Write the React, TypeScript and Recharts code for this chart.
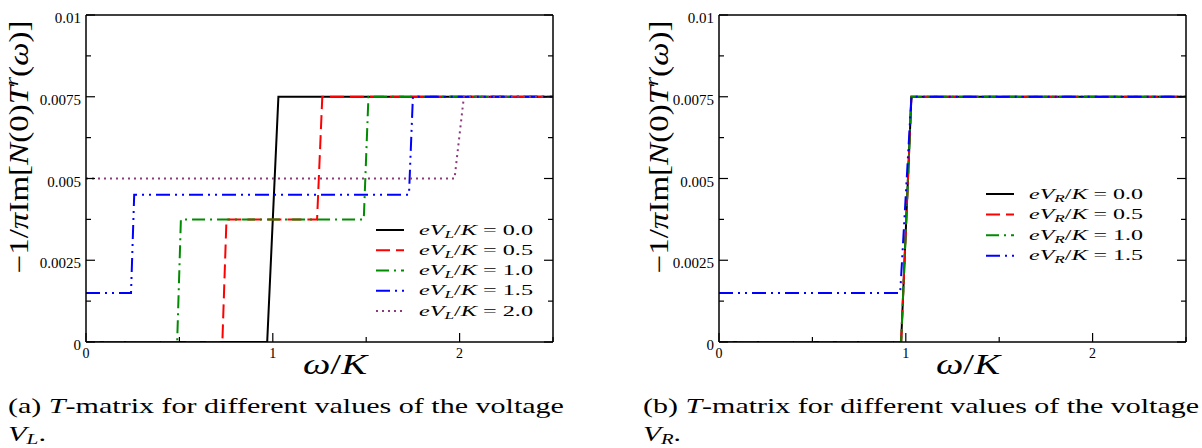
import React from "react";
import { LineChart, Line, XAxis, YAxis, Legend } from "recharts";

const SERIF = "'Liberation Serif', 'Times New Roman', serif";

// panel (a): -1/pi Im[N(0)T^r(w)] vs w/K for several eV_L/K
const leftV00 = [
  { w: 0, t: 0 },
  { w: 0.97, t: 0 },
  { w: 1.03, t: 0.0075 },
  { w: 2.5, t: 0.0075 },
];
const leftV05 = [
  { w: 0, t: 0 },
  { w: 0.73, t: 0 },
  { w: 0.752, t: 0.00375 },
  { w: 1.237, t: 0.00375 },
  { w: 1.265, t: 0.0075 },
  { w: 2.5, t: 0.0075 },
];
const leftV10 = [
  { w: 0, t: 0 },
  { w: 0.488, t: 0 },
  { w: 0.508, t: 0.00375 },
  { w: 1.487, t: 0.00375 },
  { w: 1.512, t: 0.0075 },
  { w: 2.5, t: 0.0075 },
];
const leftV15 = [
  { w: 0, t: 0.0015 },
  { w: 0.241, t: 0.0015 },
  { w: 0.258, t: 0.0045 },
  { w: 1.729, t: 0.0045 },
  { w: 1.75, t: 0.0075 },
  { w: 2.5, t: 0.0075 },
];
const leftV20 = [
  { w: 0, t: 0.005 },
  { w: 1.973, t: 0.005 },
  { w: 2.023, t: 0.0075 },
  { w: 2.5, t: 0.0075 },
];

// panel (b): same quantity for several eV_R/K
const rightV00 = [
  { w: 0, t: 0 },
  { w: 0.975, t: 0 },
  { w: 1.03, t: 0.0075 },
  { w: 2.5, t: 0.0075 },
];
const rightV05 = [
  { w: 0, t: 0 },
  { w: 0.975, t: 0 },
  { w: 1.03, t: 0.0075 },
  { w: 2.5, t: 0.0075 },
];
const rightV10 = [
  { w: 0, t: 0 },
  { w: 0.975, t: 0 },
  { w: 1.03, t: 0.0075 },
  { w: 2.5, t: 0.0075 },
];
const rightV15 = [
  { w: 0, t: 0.0015 },
  { w: 0.97, t: 0.0015 },
  { w: 1.03, t: 0.0075 },
  { w: 2.5, t: 0.0075 },
];

const leftVoltages = ["0.0", "0.5", "1.0", "1.5", "2.0"];
const rightVoltages = ["0.0", "0.5", "1.0", "1.5"];

const xTicks = [0, 0.5, 1, 1.5, 2, 2.5];
const yTicks = [0, 0.00125, 0.0025, 0.00375, 0.005, 0.00625, 0.0075, 0.00875, 0.01];

const lineStyles = [
  { color: "#000000", dash: undefined },
  { color: "#ff0000", dash: "14 6" },
  { color: "#008b00", dash: "13 5 2 5" },
  { color: "#0000ff", dash: "14 5 2 5 2 5" },
  { color: "#8b3a7a", dash: "2 4" },
];

const isMajor = (v: number, step: number) =>
  Math.abs(v / step - Math.round(v / step)) < 1e-6;

const BottomTick = ({ x, y, payload }: any) => {
  const major = isMajor(payload.value, 1);
  return (
    <g>
      <line x1={x} y1={y} x2={x} y2={y - (major ? 9 : 5)} stroke="#000" strokeWidth={1.2} />
      {major && (
        <text x={x} y={y + 16} textAnchor="middle" fontFamily={SERIF} fontSize={14} fill="#000">
          {payload.value}
        </text>
      )}
    </g>
  );
};

const TopTick = ({ x, y, payload }: any) => {
  const major = isMajor(payload.value, 1);
  return <line x1={x} y1={y} x2={x} y2={y + (major ? 9 : 5)} stroke="#000" strokeWidth={1.2} />;
};

const LeftTick = ({ x, y, payload }: any) => {
  const major = isMajor(payload.value, 0.0025);
  return (
    <g>
      <line x1={x} y1={y} x2={x + (major ? 9 : 5)} y2={y} stroke="#000" strokeWidth={1.2} />
      {major && (
        <text x={x - 5} y={y + 8} textAnchor="end" fontFamily={SERIF} fontSize={15} fill="#000">
          {String(payload.value)}
        </text>
      )}
    </g>
  );
};

const RightTick = ({ x, y, payload }: any) => {
  const major = isMajor(payload.value, 0.0025);
  return <line x1={x} y1={y} x2={x - (major ? 9 : 5)} y2={y} stroke="#000" strokeWidth={1.2} />;
};

const YTitle = ({ bx }: { bx: number }) => (
  <text
    transform={`translate(${bx},147) rotate(-90)`}
    textAnchor="middle"
    fontFamily={SERIF}
    fontSize={27}
    fill="#000"
    textLength={253}
    lengthAdjust="spacingAndGlyphs"
  >
    <tspan>−1/</tspan>
    <tspan fontStyle="italic">π</tspan>
    <tspan>Im[</tspan>
    <tspan fontStyle="italic">N</tspan>
    <tspan>(0)</tspan>
    <tspan fontStyle="italic">T</tspan>
    <tspan fontStyle="italic" fontSize={19} dy={-10}>r</tspan>
    <tspan dy={10}>(</tspan>
    <tspan fontStyle="italic">ω</tspan>
    <tspan>)]</tspan>
  </text>
);

const XTitle = () => (
  <text
    x={335}
    y={374}
    textAnchor="middle"
    fontFamily={SERIF}
    fontSize={30}
    fill="#000"
    textLength={64}
    lengthAdjust="spacingAndGlyphs"
  >
    <tspan fontStyle="italic">ω</tspan>
    <tspan>/</tspan>
    <tspan fontStyle="italic">K</tspan>
  </text>
);

const makeLegend = (sub: string, voltages: string[], step: number) => () => (
  <svg width={200} height={115}>
    {voltages.map((v, i) => {
      const cy = 15 + i * step;
      const s = lineStyles[i];
      return (
        <g key={v}>
          <line x1={6} x2={34} y1={cy} y2={cy} stroke={s.color} strokeWidth={2} strokeDasharray={s.dash} />
          <text
            x={49}
            y={cy + 4.5}
            fontFamily={SERIF}
            fontSize={14}
            fill="#000"
            textLength={114}
            lengthAdjust="spacingAndGlyphs"
          >
            <tspan fontStyle="italic">eV</tspan>
            <tspan fontStyle="italic" fontSize={10} dy={3}>{sub}</tspan>
            <tspan dy={-3}>/</tspan>
            <tspan fontStyle="italic">K</tspan>
            <tspan> = {v}</tspan>
          </text>
        </g>
      );
    })}
  </svg>
);

type PanelProps = {
  series: { w: number; t: number }[][];
  voltages: string[];
  sub: string;
  legendPos: { left: number; top: number };
  legendStep: number;
  titleX: number;
};

function Panel({ series, voltages, sub, legendPos, legendStep, titleX }: PanelProps) {
  return (
    <LineChart width={570} height={390} margin={{ top: 14, right: 16, bottom: 18, left: 46 }}>
      <XAxis
        xAxisId="b"
        dataKey="w"
        type="number"
        domain={[0, 2.5]}
        allowDataOverflow
        ticks={xTicks}
        interval={0}
        height={30}
        tickSize={0}
        tickMargin={0}
        tickLine={false}
        tick={BottomTick}
        axisLine={{ stroke: "#000", strokeWidth: 1.5 }}
        label={{ content: () => <XTitle /> }}
      />
      <XAxis
        xAxisId="t"
        orientation="top"
        type="number"
        domain={[0, 2.5]}
        allowDataOverflow
        ticks={xTicks}
        interval={0}
        height={1}
        tickSize={0}
        tickMargin={0}
        tickLine={false}
        tick={TopTick}
        axisLine={{ stroke: "#000", strokeWidth: 1.5 }}
      />
      <YAxis
        yAxisId="l"
        type="number"
        domain={[0, 0.01]}
        allowDataOverflow
        ticks={yTicks}
        interval={0}
        width={40}
        tickSize={0}
        tickMargin={0}
        tickLine={false}
        tick={LeftTick}
        axisLine={{ stroke: "#000", strokeWidth: 1.5 }}
        label={{ content: () => <YTitle bx={titleX} /> }}
      />
      <YAxis
        yAxisId="r"
        orientation="right"
        type="number"
        domain={[0, 0.01]}
        allowDataOverflow
        ticks={yTicks}
        interval={0}
        width={1}
        tickSize={0}
        tickMargin={0}
        tickLine={false}
        tick={RightTick}
        axisLine={{ stroke: "#000", strokeWidth: 1.5 }}
      />
      {series.map((d, i) => (
        <Line
          key={voltages[i]}
          xAxisId="b"
          yAxisId="l"
          data={d}
          dataKey="t"
          name={voltages[i]}
          type="linear"
          stroke={lineStyles[i].color}
          strokeWidth={2}
          strokeDasharray={lineStyles[i].dash}
          dot={false}
          activeDot={false}
          isAnimationActive={false}
        />
      ))}
      <Legend
        layout="vertical"
        align="center"
        verticalAlign="middle"
        content={makeLegend(sub, voltages, legendStep)}
        wrapperStyle={{ left: legendPos.left, top: legendPos.top, width: 200, height: 115 }}
      />
    </LineChart>
  );
}

const Caption = ({ x, label, sub }: { x: number; label: string; sub: string }) => (
  <svg width={570} height={63} style={{ position: "absolute", left: x, top: 385 }}>
    <text x={0} y={28} fontFamily={SERIF} fontSize={21} fill="#000" textLength={556} lengthAdjust="spacingAndGlyphs">
      {label} <tspan fontStyle="italic">T</tspan>-matrix for different values of the voltage
    </text>
    <text x={0} y={56} fontFamily={SERIF} fontSize={20} fill="#000" textLength={38} lengthAdjust="spacingAndGlyphs">
      <tspan fontStyle="italic">V</tspan>
      <tspan fontStyle="italic" fontSize={14} dy={3}>{sub}</tspan>
      <tspan dy={-3}>.</tspan>
    </text>
  </svg>
);

export default function App() {
  return (
    <div
      style={{
        position: "absolute",
        left: 0,
        top: 0,
        width: 1202,
        height: 448,
        overflow: "hidden",
        background: "#fff",
      }}
    >
      <div style={{ position: "absolute", left: 0, top: 0 }}>
        <Panel
          series={[leftV00, leftV05, leftV10, leftV15, leftV20]}
          voltages={leftVoltages}
          sub="L"
          legendPos={{ left: 370, top: 215 }}
          legendStep={20.25}
          titleX={28}
        />
      </div>
      <div style={{ position: "absolute", left: 633, top: 0 }}>
        <Panel
          series={[rightV00, rightV05, rightV10, rightV15]}
          voltages={rightVoltages}
          sub="R"
          legendPos={{ left: 347, top: 179 }}
          legendStep={20.6}
          titleX={35}
        />
      </div>
      <Caption x={8} label="(a)" sub="L" />
      <Caption x={643} label="(b)" sub="R" />
    </div>
  );
}
